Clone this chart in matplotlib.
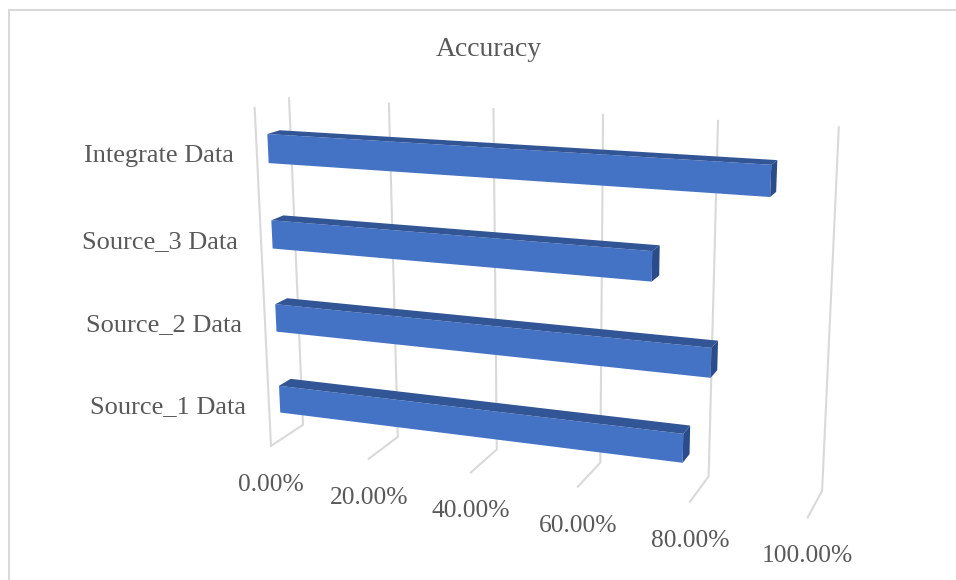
import numpy as np
import matplotlib
matplotlib.use("Agg")
import matplotlib.pyplot as plt
from matplotlib.patches import Polygon
from matplotlib.transforms import Transform

# ---- data -------------------------------------------------------------
categories = ["Source_1 Data", "Source_2 Data", "Source_3 Data", "Integrate Data"]
accuracy = [77.5, 82.0, 71.5, 91.0]
tick_values = [0, 20, 40, 60, 80, 100]
tick_labels = ["0.00%", "20.00%", "40.00%", "60.00%", "80.00%", "100.00%"]
title = "Accuracy"

# ---- camera calibration: (value, height, depth) -> pixel ---------------
anchors_3d = [(0, 1, 0), (0, 0, 0), (0, 1, 1), (0, 0, 1), (100, 1, 1), (100, 0, 1),
              (100, 0, 0), (20, 0, 1), (40, 0, 1), (80, 0, 1), (80, 1, 1), (20, 1, 1),
              (40, 1, 1), (60, 1, 1), (60, 0, 1), (80, 0, 0), (40, 0, 0), (20, 0, 0)]
anchors_px = [(255, 108), (271, 446), (289, 99), (303, 425), (839, 127), (822, 491),
              (808, 517), (398, 437), (497, 449), (708, 476), (718, 122), (389, 103),
              (493, 108), (603, 115), (601, 463), (690, 502), (471, 472), (368, 459)]


def solve_camera():
    rows = []
    for (v, y, d), (px, py) in zip(anchors_3d, anchors_px):
        X = [v / 100, y, d, 1]
        u, w = px / 1000, py / 1000
        rows.append(X + [0, 0, 0, 0] + [-u * c for c in X])
        rows.append([0, 0, 0, 0] + X + [-w * c for c in X])
    return np.linalg.svd(np.array(rows))[2][-1].reshape(3, 4)


CAM = solve_camera()


def project(v, y, d):
    v, y, d = np.broadcast_arrays(v, y, d)
    X = np.stack([v / 100, y, d, np.ones_like(v, dtype=float)], axis=-1)
    h = X @ CAM.T
    return 1000 * h[..., :2] / h[..., 2:3]


class DepthPlane(Transform):
    """Maps (value, height) on the plane of one depth to pixels."""
    input_dims = output_dims = 2
    is_separable = False
    has_inverse = False

    def __init__(self, plane_depth):
        super().__init__()
        self.plane_depth = plane_depth

    def transform_non_affine(self, values):
        values = np.asarray(values, dtype=float)
        return project(values[:, 0], values[:, 1], self.plane_depth)


# ---- figure -----------------------------------------------------------
GRID = "#D9D9D9"
TEXT = "#595959"
FRONT = "#4472C4"
TOP = "#325596"
SIDE = "#2A4C8A"
plt.rcParams["font.family"] = ["Liberation Serif", "DejaVu Serif"]

fig = plt.figure(figsize=(9.56, 5.8), dpi=100, facecolor="white")
ax = fig.add_axes([0, 0, 1, 1])
ax.axis("off")

# chart frame
ax.plot([9, 9, 956], [580, 9.7, 9.7], color=GRID, lw=1.5, solid_joinstyle="miter")

# gridlines
for v in tick_values:
    pts = project(np.array([v, v, v]), np.array([1, 0, 0]), np.array([1, 1, 0]))
    ax.plot(pts[:, 0], pts[:, 1], color=GRID, lw=1.5, solid_joinstyle="round")
edge = project(np.array([0, 0]), np.array([1, 0]), np.array([0, 0]))
ax.plot(edge[:, 0], edge[:, 1], color=GRID, lw=1.5)

# bars
band = 1 / len(categories)
bar_h = band / 3
d_front, d_back = 0.32, 0.68
centers = (np.arange(len(categories)) + 0.5) * band
ax.barh(centers, accuracy, height=bar_h, color=FRONT, linewidth=0,
        transform=DepthPlane(d_front) + ax.transData, zorder=3)
for c, val in zip(centers, accuracy):
    y0, y1 = c - bar_h / 2, c + bar_h / 2
    top = project(np.array([0, val, val, 0]), y1, np.array([d_front, d_front, d_back, d_back]))
    side = project(val, np.array([y0, y1, y1, y0]), np.array([d_front, d_front, d_back, d_back]))
    ax.add_patch(Polygon(top, closed=True, facecolor=TOP, edgecolor="none", zorder=3))
    ax.add_patch(Polygon(side, closed=True, facecolor=SIDE, edgecolor="none", zorder=3))

# labels
for c, name in zip(centers, categories):
    x, y = project(0, c, 0)
    ax.text(x - 23, y + 4 - 3 * (y - 150) / 255, name, ha="right", va="center",
            fontsize=19, color=TEXT)
for v, lab in zip(tick_values, tick_labels):
    x, y = project(v, 0, 0)
    ax.text(x, y + 39, lab, ha="center", va="center", fontsize=18.4, color=TEXT)
ax.text(489, 49, title, ha="center", va="center", fontsize=20, color=TEXT)

ax.set_xlim(0, 956)
ax.set_ylim(580, 0)
fig.savefig("out.png", dpi=100)
